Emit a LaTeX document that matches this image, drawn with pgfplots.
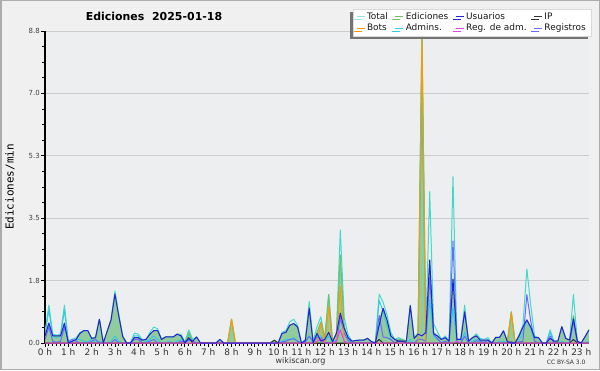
\documentclass[border=0pt]{standalone}
\usepackage{fontspec}
\setmainfont{DejaVu Sans}
\setmonofont{DejaVu Sans Mono}
\usepackage{pgfplots}
\usepackage{pgfplotstable}
\pgfplotsset{compat=1.18}
\usetikzlibrary{shadows}
\definecolor{outerbg}{HTML}{F0F0F0}
\definecolor{plotbg}{HTML}{EDEEF0}
\definecolor{bordc}{HTML}{ACACAC}
\definecolor{totalc}{HTML}{44D8CC}
\definecolor{edic}{HTML}{6CC070}
\definecolor{edifill}{HTML}{8FCB98}
\definecolor{usuc}{HTML}{2222DD}
\definecolor{ipc}{HTML}{333333}
\definecolor{botc}{HTML}{FF9900}
\definecolor{admc}{HTML}{33CCDD}
\definecolor{regadmc}{HTML}{DD44EE}
\definecolor{regc}{HTML}{6A6AFF}
\definecolor{gridc}{HTML}{CCCCCC}

\pgfplotstableread{
i T E U B A R I M
0 0.30 0.20 0.20 0 0.25 0.10 0 0
1 1.07 0.56 0.56 0 0.93 0.45 0 0
2 0.25 0.20 0.20 0 0.20 0.05 0 0
3 0.22 0.20 0.20 0 0.15 0.02 0 0
4 0.25 0.20 0.20 0 0.20 0.05 0 0
5 1.07 0.56 0.56 0 0.93 0.45 0 0
6 0.05 0 0 0 0.03 0.05 0 0
7 0.10 0.05 0.05 0 0.05 0.10 0 0
8 0.15 0.10 0.10 0 0.10 0.05 0 0
9 0.30 0.27 0.27 0 0.10 0 0 0
10 0.35 0.35 0.35 0 0.05 0 0 0
11 0.35 0.35 0.35 0 0.03 0 0 0
12 0.13 0.13 0.13 0 0.10 0.05 0 0
13 0.17 0.15 0.15 0 0.02 0.10 0 0
14 0.67 0.67 0.67 0 0.05 0 0 0
15 0 0 0 0 0 0 0 0
16 0.33 0.33 0.33 0 0 0 0 0
17 0.67 0.65 0.65 0 0.05 0 0 0
18 1.47 1.38 1.38 0 0.20 0.10 0 0
19 0.80 0.75 0.75 0 0.05 0 0 0
20 0.20 0.18 0.18 0 0 0 0 0
21 0 0 0 0 0 0 0 0
22 0 0 0 0 0 0 0 0
23 0.28 0.15 0.15 0 0.20 0.10 0 0
24 0.25 0.15 0.15 0 0.20 0.10 0 0
25 0.10 0.08 0.08 0 0 0 0 0
26 0.10 0.10 0.10 0 0.05 0 0 0
27 0.30 0.25 0.25 0 0.10 0.05 0 0
28 0.45 0.35 0.35 0 0.20 0.10 0 0
29 0.40 0.35 0.35 0 0.10 0 0 0
30 0.10 0.10 0.10 0 0 0 0 0
31 0.17 0.17 0.17 0 0 0 0 0
32 0.17 0.17 0.17 0 0.05 0 0 0
33 0.17 0.17 0.17 0 0 0 0 0
34 0.25 0.25 0.25 0 0.05 0 0 0
35 0.25 0.20 0.20 0 0.10 0.05 0 0
36 0.03 0 0 0 0 0.03 0 0
37 0.37 0.30 0.13 0 0.25 0.07 0.15 0
38 0.10 0.05 0.05 0 0.05 0.05 0 0
39 0.17 0.17 0.17 0 0 0 0 0
40 0 0 0 0 0 0 0 0
41 0 0 0 0 0 0 0 0
42 0 0 0 0 0 0 0 0
43 0 0 0 0 0 0 0 0
44 0 0 0 0 0 0 0 0
45 0.10 0.10 0.10 0 0 0 0 0
46 0 0 0 0 0 0 0 0
47 0 0 0 0 0 0 0 0
48 0.67 0.67 0 0.67 0 0 0 0
49 0 0 0 0 0 0 0 0
50 0 0 0 0 0 0 0 0
51 0 0 0 0 0 0 0 0
52 0 0 0 0 0 0 0 0
53 0 0 0 0 0 0 0 0
54 0 0 0 0 0 0 0 0
55 0 0 0 0 0 0 0 0
56 0 0 0 0 0 0 0 0
57 0 0 0 0 0 0 0 0
58 0 0 0 0 0 0 0 0
59 0.08 0.08 0 0 0 0 0.08 0
60 0 0 0 0 0 0 0 0
61 0.30 0.27 0.27 0 0.05 0.03 0 0
62 0.35 0.30 0.30 0 0.10 0.05 0 0
63 0.60 0.50 0.50 0 0.10 0.10 0 0
64 0.67 0.55 0.55 0 0.15 0.12 0 0
65 0.50 0.45 0.45 0 0.05 0.05 0 0
66 0 0 0 0 0 0 0 0
67 0.10 0.07 0.07 0 0.07 0.03 0 0
68 1.17 0.98 0.98 0 0.20 0.19 0 0
69 0.05 0 0 0 0 0.05 0 0
70 0.46 0.30 0.27 0 0.20 0.16 0 0.05
71 0.74 0.60 0.05 0.56 0.20 0.14 0 0.10
72 0.13 0.10 0.10 0 0.05 0.03 0 0
73 1.37 1.37 0.30 1.03 0.20 0 0 0
74 0.04 0.04 0.04 0 0 0 0 0
75 0.30 0.27 0.27 0 0.10 0.03 0 0.05
76 3.19 2.48 0.84 1.60 0.85 0.71 0 0.37
77 0.72 0.45 0.41 0 0.50 0.27 0 0.05
78 0.23 0.15 0.15 0 0.05 0.08 0 0
79 0.05 0.05 0.05 0 0 0 0 0
80 0.07 0.07 0.07 0 0 0 0 0
81 0.08 0.08 0.08 0 0 0 0 0
82 0.08 0.08 0.08 0 0 0 0 0
83 0.13 0.13 0.13 0 0 0 0 0
84 0.04 0.04 0.04 0 0 0 0 0
85 0 0 0 0 0 0 0 0
86 1.38 0.60 0.50 0 1.20 0.78 0.10 0
87 1.15 0.98 0.98 0 0.90 0.17 0 0
88 0.80 0.65 0.65 0 0.50 0.15 0 0
89 0.30 0.20 0.20 0 0.10 0.10 0 0
90 0.10 0.10 0.10 0 0 0 0 0
91 0.15 0.10 0.05 0 0.05 0.05 0.05 0
92 0.10 0.10 0.05 0 0 0 0.05 0
93 0.05 0.05 0.05 0 0 0 0 0
94 1.07 1.05 1.05 0 0.10 0.02 0 0
95 0.13 0.13 0.13 0 0 0 0 0
96 0.30 0.25 0.25 0 0.10 0.10 0 0
97 8.80 8.70 0.20 8.60 6.70 0.10 0 0
98 0.35 0.30 0.30 0 0.10 0.05 0 0
99 4.27 2.34 2.34 0 1.20 1.84 0 0
100 0.55 0.30 0.26 0 0.20 0.25 0 0
101 0.32 0.20 0.20 0 0.10 0.12 0 0
102 0.10 0.10 0.10 0 0 0 0 0
103 0.20 0.15 0.15 0 0.05 0.05 0 0
104 0.05 0.05 0.05 0 0 0 0 0
105 4.69 1.80 1.80 0 1.00 2.88 0 0
106 0.10 0.10 0.10 0 0 0 0 0.05
107 0.10 0.10 0.10 0 0 0 0 0
108 1.07 0.88 0.88 0 0.30 0.19 0 0
109 0.05 0.05 0.05 0 0 0 0 0
110 0.15 0.15 0.15 0 0.05 0 0 0
111 0.26 0.20 0.20 0 0.10 0.06 0 0
112 0.13 0.08 0.08 0 0.05 0.05 0 0
113 0.10 0.08 0.08 0 0 0.02 0 0
114 0.15 0.08 0.08 0 0.10 0.07 0 0
115 0 0 0 0 0 0 0 0
116 0.16 0.16 0.16 0 0 0 0 0
117 0.16 0.16 0.16 0 0.05 0 0 0
118 0.34 0.34 0.34 0 0.05 0 0 0
119 0.04 0.04 0.04 0 0 0 0 0
120 0.88 0.88 0 0.85 0 0 0.03 0
121 0 0 0 0 0 0 0 0
122 0.23 0.20 0.20 0 0.05 0.03 0 0
123 0.50 0.45 0.45 0 0.30 0.05 0 0
124 2.09 0.65 0.65 0 0.65 1.37 0 0
125 1.07 0.45 0.45 0 0.40 0.62 0 0
126 0.20 0.15 0.15 0 0.05 0.05 0 0
127 0.15 0.15 0.15 0 0 0 0 0
128 0 0 0 0 0 0 0 0
129 0 0 0 0 0 0 0 0
130 0.37 0.13 0.13 0 0.30 0.20 0 0
131 0.05 0.05 0.05 0 0 0 0 0
132 0.05 0.05 0.05 0 0 0 0 0
133 0.46 0.46 0.46 0 0.05 0 0 0
134 0.13 0.13 0.13 0 0 0 0 0
135 0.08 0.08 0.08 0 0 0 0 0
136 1.37 0.77 0.68 0 0.75 0.60 0.10 0
137 0.05 0.05 0.05 0 0 0 0 0
138 0 0 0 0 0 0 0 0
139 0.18 0.18 0.18 0 0 0 0 0
140 0.37 0.37 0.37 0 0.05 0 0 0
}\data

\begin{document}
\begin{tikzpicture}[x=1bp,y=1bp]
\useasboundingbox (0,0) rectangle (600,370);
\fill[outerbg] (0,0) rectangle (600,370);
\draw[bordc, line width=1.5bp] (0.75,0.75) rectangle (599.25,369.25);
\begin{axis}[
  at={(45bp,27bp)}, anchor=south west,
  scale only axis, width=544bp, height=312bp,
  xmin=0, xmax=23.3333, ymin=0, ymax=8.8,
  enlargelimits=false,
  axis x line*=bottom, axis y line*=left,
  axis line style={-, black, line width=1.3bp},
  axis background/.style={fill=plotbg},
  ytick={0,1.76,3.52,5.28,7.04,8.8},
  yticklabels={0.0,1.8,3.5,5.3,7.0,8.8},
  minor y tick num=3,
  xtick={0,1,...,23},
  xticklabels={0 h,1 h,2 h,3 h,4 h,5 h,6 h,7 h,8 h,9 h,10 h,11 h,12 h,13 h,14 h,15 h,16 h,17 h,18 h,19 h,20 h,21 h,22 h,23 h},
  minor x tick num=5,
  tick align=outside,
  major tick length=4bp, minor tick length=3bp,
  tick style={black, line width=0.8bp},
  ymajorgrids, grid style={gridc, line width=0.9bp},
  xticklabel style={font=\fontsize{9}{9}\selectfont, text=black!80, inner sep=1bp},
  yticklabel style={font=\fontsize{7}{7}\selectfont, text=black!75, inner sep=1bp},
  ylabel={\fontsize{11}{11}\selectfont\ttfamily Ediciones/min},
  ylabel style={at={(axis description cs:-0.0643,0.5)}, anchor=center},
  legend columns=4,
  legend cell align=left,
  legend image code/.code={\draw[#1] (0bp,0bp) -- (8bp,0bp);},
  legend style={at={(axis description cs:1.0037,1.0705)}, anchor=north east,
    font=\fontsize{9}{9.5}\selectfont, text=black!90,
    draw=gray!30, fill=white, inner xsep=3bp, inner ysep=1.5bp,
    row sep=-1bp,
    /tikz/every even column/.append style={column sep=5bp},
    drop shadow={shadow xshift=-3bp, shadow yshift=-3bp, fill=black!55, opacity=1}},
  every axis plot/.append style={line width=1bp, line join=round},
]
\addplot[fill=edifill, fill opacity=0.95, draw=none, forget plot] table[x expr=\thisrow{i}/6, y=E] {\data} \closedcycle;
\addplot[totalc, forget plot] table[x expr=\thisrow{i}/6, y=T] {\data};
\addplot[admc, forget plot] table[x expr=\thisrow{i}/6, y=A] {\data};
\addplot[edic, forget plot] table[x expr=\thisrow{i}/6, y=E] {\data};
\addplot[regc, forget plot] table[x expr=\thisrow{i}/6, y=R] {\data};
\addplot[botc, forget plot] table[x expr=\thisrow{i}/6, y=B] {\data};
\addplot[ipc, forget plot] table[x expr=\thisrow{i}/6, y=I] {\data};
\addplot[regadmc, forget plot] table[x expr=\thisrow{i}/6, y=M] {\data};
\addplot[usuc, forget plot] table[x expr=\thisrow{i}/6, y=U] {\data};
\addlegendimage{totalc!60, line width=0.8bp}\addlegendentry{Total}
\addlegendimage{edic, line width=0.8bp}\addlegendentry{Ediciones}
\addlegendimage{usuc, line width=0.8bp}\addlegendentry{Usuarios}
\addlegendimage{ipc, line width=0.8bp}\addlegendentry{IP}
\addlegendimage{botc, line width=0.8bp}\addlegendentry{Bots}
\addlegendimage{admc, line width=0.8bp}\addlegendentry{Admins.}
\addlegendimage{regadmc, line width=0.8bp}\addlegendentry{Reg. de adm.}
\addlegendimage{regc, line width=0.8bp}\addlegendentry{Registros}
\end{axis}
\node[font=\bfseries\fontsize{11}{11}\selectfont, anchor=base] at (154,349.3) {Ediciones\hspace{0.7em}2025-01-18};
\node[font=\fontsize{8}{8}\selectfont, text=black!80] at (300.5,9) {wikiscan.org};
\node[font=\fontsize{6}{6}\selectfont, text=black!80, anchor=east] at (589,7.5) {CC BY-SA 3.0};
\end{tikzpicture}
\end{document}
